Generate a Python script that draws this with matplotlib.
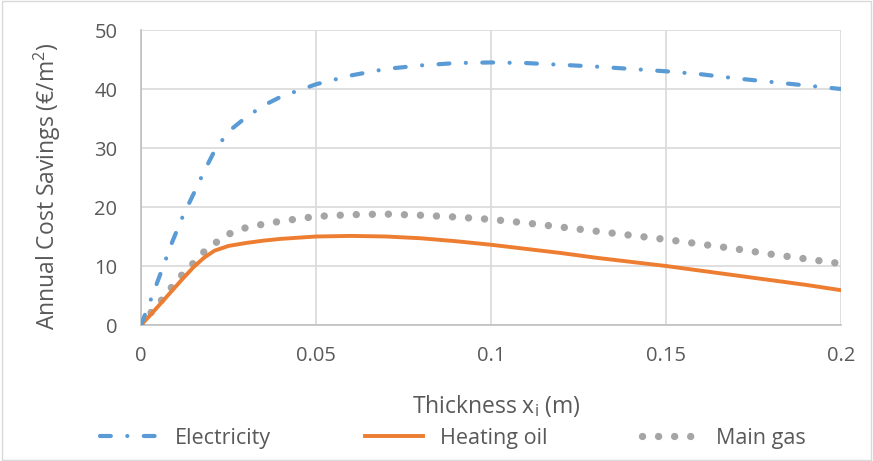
import matplotlib
matplotlib.use("Agg")
from matplotlib import pyplot as plt
import numpy as np

# insulation thickness (m)
thickness = [0, 0.003, 0.006, 0.009, 0.012, 0.015, 0.018, 0.021, 0.025, 0.03, 0.035,
             0.04, 0.05, 0.06, 0.07, 0.08, 0.09, 0.1, 0.11, 0.12, 0.13, 0.14,
             0.15, 0.16, 0.17, 0.18, 0.19, 0.2]

# annual savings (EUR/m2) per fuel
electricity = [0, 4.6, 9.4, 14.2, 18.5, 22.2, 26.0, 29.5, 32.8, 35.2, 37.2,
               38.7, 40.8, 42.3, 43.4, 44.0, 44.4, 44.5, 44.4, 44.1, 43.8, 43.4,
               43.0, 42.5, 41.8, 41.2, 40.6, 40.0]
heating_oil = [0, 1.9, 3.9, 5.9, 7.9, 9.8, 11.4, 12.6, 13.4, 13.9, 14.3,
               14.6, 15.0, 15.1, 15.0, 14.7, 14.2, 13.6, 12.9, 12.2, 11.4, 10.7,
               10.0, 9.2, 8.4, 7.6, 6.8, 5.9]
main_gas = [0, 2.2, 4.3, 6.6, 8.7, 10.5, 12.4, 13.8, 15.4, 16.5, 17.1,
            17.6, 18.4, 18.7, 18.8, 18.6, 18.3, 17.9, 17.3, 16.6, 15.9, 15.2,
            14.5, 13.7, 12.9, 12.0, 11.2, 10.4]

x_ticks = [0, 0.05, 0.1, 0.15, 0.2]
x_tick_labels = ["0", "0.05", "0.1", "0.15", "0.2"]
y_ticks = [0, 10, 20, 30, 40, 50]

plt.rcParams["font.family"] = ["Open Sans", "DejaVu Sans"]
text_grey = "#595959"

fig = plt.figure(figsize=(8.73, 4.61), dpi=100)
ax = fig.add_axes([141 / 873, 1 - 325 / 461, 700 / 873, 295 / 461])

ax.plot(thickness, main_gas, color="#A5A5A5", linewidth=5.3,
        linestyle=(0, (0.01, 2.17)), dash_capstyle="round", label="Main gas", zorder=3)
ax.plot(thickness, heating_oil, color="#ED7D31", linewidth=2.8,
        label="Heating oil", zorder=4)
ax.plot(thickness, electricity, color="#5B9BD5", linewidth=3.0,
        linestyle=(0, (2.6, 3.95, 0.01, 3.95)), dash_capstyle="round",
        label="Electricity", zorder=5)

ax.set_xlim(0, 0.2)
ax.set_ylim(0, 50)
ax.set_xticks(x_ticks)
ax.set_xticklabels(x_tick_labels)
ax.set_yticks(y_ticks)
ax.grid(True, color="#D9D9D9", linewidth=1.2)
ax.set_axisbelow(True)
for side in ["top", "right"]:
    ax.spines[side].set_visible(False)
for side in ["left", "bottom"]:
    ax.spines[side].set_color("#BFBFBF")
    ax.spines[side].set_linewidth(1.2)
ax.tick_params(length=0, labelsize=14.5, labelcolor=text_grey)
ax.tick_params(axis="x", pad=15)
ax.tick_params(axis="y", pad=17)

ax.set_xlabel("Thickness x$_\\mathregular{i}$ (m)", fontsize=16.5, color=text_grey)
ax.set_ylabel("Annual Cost Savings (€/m$^\\mathregular{2}$)", fontsize=16.5, color=text_grey)
ax.xaxis.set_label_coords(0.507, -0.232)
ax.yaxis.set_label_coords(-0.111, 0.471)

handles, labels = ax.get_legend_handles_labels()
order = [2, 1, 0]
leg = fig.legend([handles[i] for i in order], [labels[i] for i in order],
                 loc="center left", bbox_to_anchor=(81 / 873, 1 - 438 / 461),
                 ncol=3, frameon=False, fontsize=15.5, handlelength=2.7,
                 handletextpad=0.75, columnspacing=4.4)
for t in leg.get_texts():
    t.set_color(text_grey)

# light frame round the whole chart
fig.patches.append(plt.Rectangle((0.002, 0.003), 0.996, 0.994, transform=fig.transFigure,
                                 fill=False, edgecolor="#D9D9D9", linewidth=1))

fig.savefig("out.png", dpi=100)
